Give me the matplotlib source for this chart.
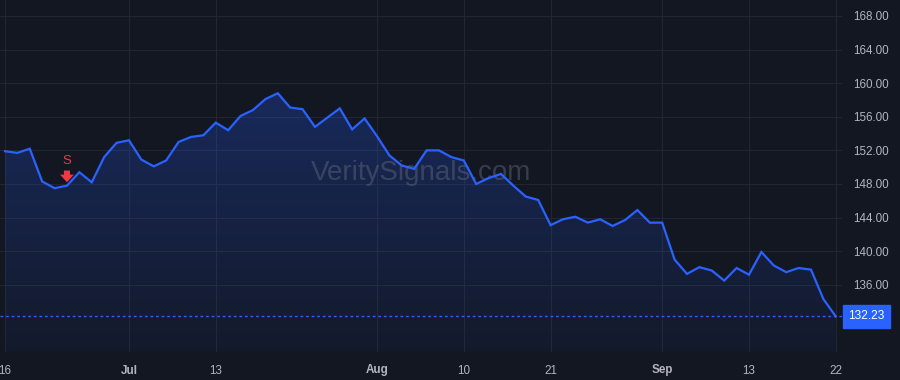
import numpy as np
import pandas as pd
import matplotlib
matplotlib.use("Agg")
import matplotlib.pyplot as plt
from matplotlib.colors import LinearSegmentedColormap
from matplotlib.patches import Polygon

# trading days Jun 16 - Sep 22 (US holidays removed)
holidays = ["2023-06-19", "2023-07-04", "2023-09-04"]
dates = [d for d in pd.bdate_range("2023-06-16", "2023-09-22") if d.strftime("%Y-%m-%d") not in holidays]

close = [
    151.9, 151.7, 152.2, 148.3, 147.5, 147.8, 149.4, 148.2, 151.2, 152.9,
    153.2, 150.9, 150.1, 150.8, 153.0, 153.6, 153.8, 155.3, 154.4, 156.1,
    156.8, 158.1, 158.8, 157.1, 156.9, 154.8, 155.9, 157.0, 154.5, 155.8,
    153.7, 151.4, 150.2, 149.8, 152.0, 152.0, 151.2, 150.8, 148.0, 148.7,
    149.2, 147.8, 146.5, 146.1, 143.1, 143.8, 144.1, 143.4, 143.8, 143.0,
    143.7, 144.9, 143.4, 143.4, 139.0, 137.3, 138.1, 137.7, 136.5, 138.0,
    137.2, 139.9, 138.3, 137.5, 138.0, 137.8, 134.3, 132.23,
]
tick_dates = ["2023-06-16", "2023-07-03", "2023-07-13", "2023-08-01", "2023-08-10",
              "2023-08-21", "2023-09-01", "2023-09-13", "2023-09-22"]
tick_labels = ["16", "Jul", "13", "Aug", "10", "21", "Sep", "13", "22"]
bold_labels = {"Jul", "Aug", "Sep"}
price_ticks = [136, 140, 144, 148, 152, 156, 160, 164, 168]
signal_date = "2023-06-26"
last_price = close[-1]

BG = "#131722"
GRID = "#222631"
LINE = "#2962ff"
TXT = "#b2b5be"
RED = "#f23645"

day_str = [d.strftime("%Y-%m-%d") for d in dates]
x = np.arange(len(close))
y = np.array(close)

fig = plt.figure(figsize=(9, 3.8), dpi=100, facecolor=BG)
ax = fig.add_axes([0, 28 / 380, 842 / 900, 352 / 380], facecolor=BG)
ax.set_xlim(-0.4, len(close) - 0.5)
ax.set_ylim(128.0, 169.9)
y0 = 128.0

# gradient area under the line
cmap = LinearSegmentedColormap.from_list("g", [(0.16, 0.38, 1.0, 0.04), (0.16, 0.38, 1.0, 0.26)])
grad = np.linspace(0, 1, 256).reshape(-1, 1)
im = ax.imshow(grad, cmap=cmap, aspect="auto", origin="lower",
               extent=[x[0], x[-1], y0, y.max()], zorder=1)
poly = Polygon(np.column_stack([np.r_[x[0], x, x[-1]], np.r_[y0, y, y0]]),
               closed=True, facecolor="none", edgecolor="none")
ax.add_patch(poly)
im.set_clip_path(poly)

ax.plot(x, y, color=LINE, lw=1.6, zorder=3, solid_joinstyle="miter")
ax.axhline(last_price, color=LINE, lw=1, ls=(0, (2, 2)), zorder=2)

# grid
tick_idx = [day_str.index(d) for d in tick_dates]
ax.set_xticks(tick_idx)
ax.set_xticklabels(tick_labels)
ax.set_yticks(price_ticks)
ax.set_yticklabels([f"{p:.2f}" for p in price_ticks])
ax.grid(True, color=GRID, lw=0.8, zorder=0)
ax.set_axisbelow(True)
ax.yaxis.tick_right()
ax.tick_params(length=0, colors=TXT, labelsize=8.4)
ax.tick_params(axis="y", pad=8)
ax.tick_params(axis="x", pad=9)
for lab in ax.get_xticklabels() + ax.get_yticklabels():
    lab.set_fontfamily("Liberation Sans")
    lab.set_color(TXT)
    if lab.get_text() in bold_labels:
        lab.set_fontweight("bold")
for s in ax.spines.values():
    s.set_visible(False)

# last price tag
ax.annotate(f"{last_price:.2f}", xy=(1.0, last_price), xycoords=("axes fraction", "data"),
            xytext=(4.5, 0), textcoords="offset points", ha="left", va="center",
            color="white", fontsize=8.6, family="Liberation Sans", annotation_clip=False,
            bbox=dict(boxstyle="square,pad=0.45", fc=LINE, ec=LINE))

# sell signal
si = day_str.index(signal_date)
ax.annotate("", xy=(si, close[si] + 0.4), xytext=(si, close[si] + 1.8),
            arrowprops=dict(arrowstyle="simple,head_width=0.9,head_length=0.5,tail_width=0.4",
                            color=RED, lw=0, shrinkA=0, shrinkB=0, mutation_scale=11), zorder=4)
ax.text(si, close[si] + 2.95, "S", color=RED, fontsize=9.5, ha="center", va="center",
        family="Liberation Sans", zorder=4)

# watermark
ax.text(0.5, 0.508, "VeritySignals.com", transform=ax.transAxes, ha="center", va="center",
        fontsize=20, color="#5d6378", alpha=0.5, family="Liberation Sans", zorder=2)

fig.savefig("out.png", dpi=100, facecolor=BG)
